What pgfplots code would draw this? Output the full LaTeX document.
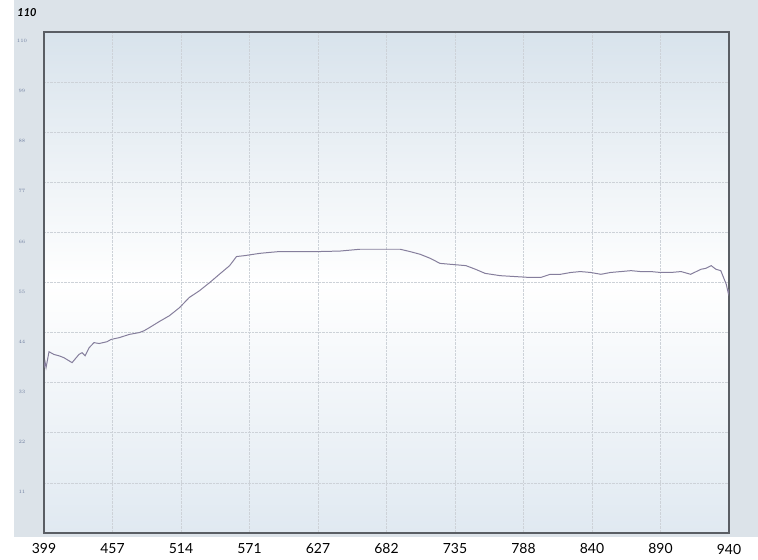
\documentclass[border=0pt]{standalone}
\usepackage{pgfplots}
\pgfplotsset{compat=1.18}
\usepackage{fontspec}
\setmainfont{Lato}
\definecolor{frame}{HTML}{DCE3E9}
\definecolor{paneltop}{HTML}{D8E3EC}
\definecolor{panelbot}{HTML}{E0E9F1}
\definecolor{gridc}{HTML}{CDD2D8}
\definecolor{curve}{HTML}{857E9C}
\definecolor{ylab}{HTML}{6E7EA0}
\definecolor{border}{HTML}{5A5E64}

\pgfplotstableread{
u v
0.000 36.3
0.015 37.6
0.030 36.3
0.073 39.8
0.146 39.2
0.220 38.9
0.290 38.5
0.410 37.4
0.510 39.2
0.556 39.6
0.600 38.9
0.660 40.7
0.730 41.8
0.805 41.6
0.920 42.0
0.980 42.5
1.100 42.9
1.245 43.6
1.390 44.0
1.460 44.4
1.540 45.1
1.680 46.4
1.830 47.7
1.980 49.5
2.120 51.7
2.270 53.2
2.420 55.0
2.560 56.8
2.710 58.7
2.810 60.7
2.930 60.9
3.150 61.4
3.290 61.6
3.440 61.8
3.730 61.8
4.030 61.8
4.320 61.9
4.610 62.3
4.900 62.3
5.200 62.3
5.340 61.8
5.490 61.2
5.640 60.3
5.780 59.2
5.930 59.0
6.160 58.7
6.300 57.9
6.440 57.0
6.660 56.5
6.880 56.3
7.100 56.1
7.250 56.1
7.390 56.8
7.540 56.8
7.690 57.2
7.830 57.4
7.980 57.2
8.130 56.8
8.270 57.2
8.420 57.4
8.570 57.6
8.710 57.4
8.860 57.4
9.000 57.2
9.150 57.2
9.300 57.4
9.440 56.8
9.590 57.9
9.660 58.1
9.740 58.7
9.810 57.9
9.880 57.6
9.960 54.6
9.990 52.6
10.000 53.5
}\spectrum

\begin{document}
\begin{tikzpicture}
% page size and outer frame
\fill[white] (-44bp,-27bp) rectangle (714bp,533bp);
\fill[frame] (-30bp,-4bp) rectangle (714bp,533bp);
% plot panel: bluish at top and bottom, white in the middle
\shade[top color=paneltop, bottom color=white] (0bp,250bp) rectangle (685bp,501bp);
\shade[top color=white, bottom color=panelbot] (0bp,0bp) rectangle (685bp,250.2bp);
\node[font=\fontsize{11}{11}\selectfont\bfseries\itshape] at (-17bp,520bp) {110};
\begin{axis}[
  scale only axis,
  width=685bp, height=501bp,
  at={(0,0)}, anchor=south west,
  xmin=0, xmax=10, ymin=0, ymax=110,
  xtick={0,1,...,10},
  xticklabels={399,457,514,571,627,682,735,788,840,890,940},
  ytick={11,22,...,110},
  major tick length=0pt,
  grid=major,
  major grid style={gridc, densely dotted, line width=0.8pt},
  axis line style={border, line width=1.4pt},
  xticklabel style={font=\fontsize{14}{14}\selectfont, anchor=center, yshift=-16bp},
  yticklabel style={font=\fontsize{5.5}{5.5}\selectfont, text=ylab, anchor=center, xshift=-22bp, yshift=-9bp},
]
\addplot[curve, line width=1pt] table[x=u, y=v] {\spectrum};
\end{axis}
\end{tikzpicture}
\end{document}
